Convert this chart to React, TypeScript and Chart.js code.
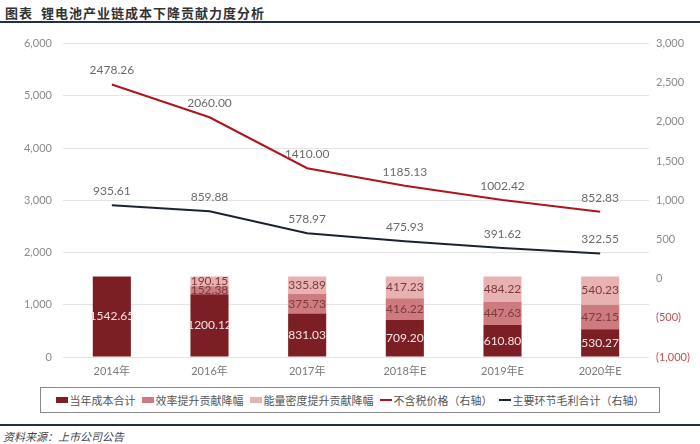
import React, { useEffect, useRef } from "react";
import { Chart, registerables } from "chart.js";

Chart.register(...registerables);

const categories = ["2014年", "2016年", "2017年", "2018年E", "2019年E", "2020年E"];
const costTotal = [1542.65, 1200.12, 831.03, 709.2, 610.8, 530.27];
const efficiencyDrop = [null, 152.38, 375.73, 416.22, 447.63, 472.15];
const densityDrop = [null, 190.15, 335.89, 417.23, 484.22, 540.23];
const priceExTax = [2478.26, 2060.0, 1410.0, 1185.13, 1002.42, 852.83];
const grossProfit = [935.61, 859.88, 578.97, 475.93, 391.62, 322.55];

const seriesNames = ["当年成本合计", "效率提升贡献降幅", "能量密度提升贡献降幅", "不含税价格（右轴）", "主要环节毛利合计（右轴）"];
const colors = ["#7b1f25", "#cd7b7e", "#e8b2b3", "#b0151d", "#1c2330"];

const fmt = (v: number) => v.toLocaleString("en-US");

const labelPlugin = {
  id: "valueLabels",
  afterDatasetsDraw(chart: any) {
    const ctx = chart.ctx;
    ctx.save();
    ctx.textAlign = "center";
    ctx.textBaseline = "middle";
    chart.data.datasets.forEach((ds: any, i: number) => {
      const meta = chart.getDatasetMeta(i);
      meta.data.forEach((el: any, j: number) => {
        const v = ds.data[j];
        if (v === null || v === undefined) return;
        const txt = v.toFixed(2);
        ctx.font = "12px Lato, 'Open Sans', sans-serif";
        if (ds.type === "line") {
          ctx.fillStyle = "#6b6b6b";
          ctx.fillText(txt, el.x, el.y - 14);
        } else {
          ctx.fillStyle = ds.label === seriesNames[0] ? "#f6e4e4" : "#7d3a3e";
          ctx.fillText(txt, el.x, (el.y + el.base) / 2);
        }
      });
    });
    ctx.restore();
  },
};

function ChartCanvas() {
  const ref = useRef<HTMLCanvasElement>(null);
  useEffect(() => {
    if (!ref.current) return;
    const chart = new Chart(ref.current, {
      type: "bar",
      data: {
        labels: categories,
        datasets: [
          { type: "line", label: seriesNames[3], data: priceExTax, yAxisID: "y1", borderColor: colors[3], backgroundColor: colors[3], borderWidth: 2, pointRadius: 0, tension: 0, order: 0 } as any,
          { type: "line", label: seriesNames[4], data: grossProfit, yAxisID: "y1", borderColor: colors[4], backgroundColor: colors[4], borderWidth: 2, pointRadius: 0, tension: 0, order: 0 } as any,
          { type: "bar", label: seriesNames[0], data: costTotal, backgroundColor: colors[0], yAxisID: "y", order: 1, barPercentage: 0.39, categoryPercentage: 1 } as any,
          { type: "bar", label: seriesNames[1], data: efficiencyDrop, backgroundColor: colors[1], yAxisID: "y", order: 1, barPercentage: 0.39, categoryPercentage: 1 } as any,
          { type: "bar", label: seriesNames[2], data: densityDrop, backgroundColor: colors[2], yAxisID: "y", order: 1, barPercentage: 0.39, categoryPercentage: 1 } as any,
        ],
      },
      options: {
        animation: false,
        responsive: false,
        devicePixelRatio: 1,
        layout: { padding: { top: 10, bottom: 0, left: 0, right: 0 } },
        plugins: { legend: { display: false }, tooltip: { enabled: false } },
        scales: {
          x: {
            stacked: true,
            grid: { display: false, drawTicks: false },
            border: { display: false },
            ticks: { color: "#7a7a7a", font: { size: 11, family: "Lato, 'Noto Sans CJK SC'" }, padding: 8 },
            afterFit: (s: any) => { s.height = 28; },
          },
          y: {
            stacked: true,
            position: "left",
            min: 0,
            max: 6000,
            ticks: { stepSize: 1000, color: "#8a8a8a", font: { size: 11, family: "Lato" }, padding: 11, callback: (v: any) => fmt(Number(v)) },
            grid: { color: "#e4e4e4", drawTicks: false },
            border: { display: false },
            afterFit: (s: any) => { s.width = 63; },
          },
          y1: {
            stacked: false,
            position: "right",
            min: -1000,
            max: 3000,
            ticks: {
              stepSize: 500,
              color: (c: any) => (c.tick && c.tick.value < 0 ? "#c0504d" : "#8a8a8a"),
              font: { size: 11, family: "Lato" },
              padding: 7,
              callback: (v: any) => { const n = Number(v); return n < 0 ? `(${fmt(-n)})` : fmt(n); },
            },
            grid: { display: false, drawTicks: false },
            border: { display: false },
            afterFit: (s: any) => { s.width = 51; },
          },
        },
      },
      plugins: [labelPlugin],
    });
    return () => chart.destroy();
  }, []);
  return <canvas ref={ref} width={700} height={359} style={{ position: "absolute", left: 0, top: 26, width: 700, height: 359 }} />;
}

export default function App() {
  useEffect(() => {
    document.body.style.margin = "0";
  }, []);
  const legendItems = seriesNames.map((n, i) => (
    <span key={n} style={{ display: "inline-flex", alignItems: "center", marginRight: i < 4 ? 6 : 0 }}>
      <span style={{ display: "inline-block", width: 12, height: i < 3 ? 6 : 2, background: colors[i], marginRight: 2 }} />
      {n}
    </span>
  ));
  return (
    <div style={{ position: "fixed", left: 0, top: 0, width: 700, height: 444, background: "#fff", overflow: "hidden", fontFamily: "'Noto Sans CJK SC', sans-serif" }}>
      <div style={{ position: "absolute", left: 5, top: 3, fontSize: 13, fontWeight: 700, color: "#333", letterSpacing: 1 }}>图表&nbsp;&nbsp;锂电池产业链成本下降贡献力度分析</div>
      <div style={{ position: "absolute", left: 0, top: 21, width: 700, height: 2, background: "#1f3048" }} />
      <ChartCanvas />
      <div style={{ position: "absolute", left: 40, top: 387, width: 618, height: 24, border: "1px solid #8a8a8a", display: "flex", alignItems: "center", justifyContent: "center", fontSize: 11, color: "#555", whiteSpace: "nowrap" }}>
        {legendItems}
      </div>
      <div style={{ position: "absolute", left: 0, top: 424, width: 700, height: 2, background: "#1f3048" }} />
      <div style={{ position: "absolute", left: 3, top: 428, fontSize: 11, fontStyle: "italic", color: "#444" }}>资料来源：上市公司公告</div>
    </div>
  );
}
